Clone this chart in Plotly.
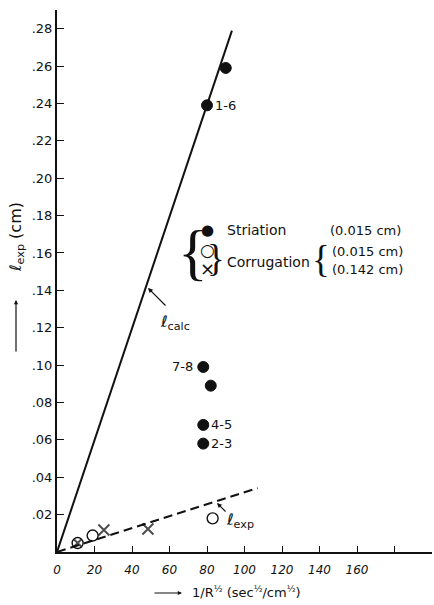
import plotly.graph_objects as go

# ---------------- data ----------------
# Striation (0.015 cm) - filled circles
stri_x = [80, 90, 78, 82, 78, 78]
stri_y = [0.239, 0.259, 0.099, 0.089, 0.068, 0.058]
# Corrugation (0.015 cm) - open circles
corr1_x = [11, 19, 83]
corr1_y = [0.0048, 0.0088, 0.018]
# Corrugation (0.142 cm) - crosses
corr2_x = [11, 25, 48.5]
corr2_y = [0.0048, 0.0118, 0.0123]
corr2_size = [7, 11, 11]
# l_calc (solid) and l_exp (dashed) lines
calc_x = [0, 93.3]
calc_y = [0, 0.279]
exp_x = [0, 107]
exp_y = [0, 0.0342]

x_ticks = [0, 20, 40, 60, 80, 100, 120, 140, 160, 180]
x_ticktext = ["0", "20", "40", "60", "80", "100", "120", "140", "160", ""]
y_ticks = [0.02, 0.04, 0.06, 0.08, 0.10, 0.12, 0.14, 0.16, 0.18, 0.20, 0.22, 0.24, 0.26, 0.28]
y_ticktext = [".02", ".04", ".06", ".08", ".10", ".12", ".14", ".16", ".18", ".20", ".22", ".24", ".26", ".28"]

point_labels = ["1-6", "", "7-8", "", "4-5", "2-3"]

FONT = "DejaVu Sans"
BRACE = "Liberation Serif"
INK = "#111111"

W, H = 434, 605
ML, MR, MT, MB = 57, 2, 10, 53
PW, PH = W - ML - MR, H - MT - MB


def px(xp):
    return (xp - ML) / PW


def py(yp):
    return (H - MB - yp) / PH


fig = go.Figure()

fig.add_trace(go.Scatter(x=calc_x, y=calc_y, mode="lines",
                         line=dict(color=INK, width=2), showlegend=False, hoverinfo="skip"))
fig.add_trace(go.Scatter(x=exp_x, y=exp_y, mode="lines",
                         line=dict(color=INK, width=2, dash="9px,5px"), showlegend=False, hoverinfo="skip"))
fig.add_trace(go.Scatter(x=stri_x, y=stri_y, mode="markers",
                         marker=dict(symbol="circle", size=11, color=INK,
                                     line=dict(color=INK, width=1)), showlegend=False))
fig.add_trace(go.Scatter(x=corr1_x, y=corr1_y, mode="markers",
                         marker=dict(symbol="circle-open", size=11, color=INK,
                                     line=dict(color=INK, width=1.4)), showlegend=False))
fig.add_trace(go.Scatter(x=corr2_x, y=corr2_y, mode="markers",
                         marker=dict(symbol="x-thin-open", size=corr2_size, color="#000000",
                                     line=dict(color="#000000", width=2)), showlegend=False))

ann = []
# point labels
lab_pos = {"1-6": (6, "left"), "7-8": (-8, "right"), "4-5": (6, "left"), "2-3": (6, "left")}
for xv, yv, t in zip(stri_x, stri_y, point_labels):
    if not t:
        continue
    dx, anc = lab_pos[t]
    ann.append(dict(x=xv, y=yv, xref="x", yref="y", text=t, showarrow=False,
                    xanchor=anc, xshift=dx,
                    font=dict(family=FONT, size=13, color=INK)))


def txt(xp, yp, text, size=13, anchor="left", family=FONT):
    ann.append(dict(x=px(xp), y=py(yp), xref="paper", yref="paper", text=text,
                    showarrow=False, xanchor=anchor, yanchor="middle",
                    font=dict(family=family, size=size, color=INK)))


# legend block
txt(193, 252, "{", size=62, anchor="center", family=BRACE)
txt(207, 230, "●", size=15, anchor="center")
txt(207, 250, "○", size=17, anchor="center")
txt(207, 268, "×", size=18, anchor="center")
txt(216, 258, "}", size=37, anchor="center", family=BRACE)
txt(225, 230, "Striation", size=14)
txt(225, 262, "Corrugation", size=14)
txt(328, 230, "(0.015 cm)", size=13)
txt(321, 259, "{", size=37, anchor="center", family=BRACE)
txt(330, 252, "(0.015 cm)", size=13)
txt(330, 269, "(0.142 cm)", size=13)

# line labels with arrows
txt(158, 322, "ℓ<sub>calc</sub>", size=16)
ann.append(dict(x=px(148), y=py(288), xref="paper", yref="paper", ax=19, ay=19, text="",
                showarrow=True, arrowhead=2, arrowsize=0.8, arrowwidth=1.2, arrowcolor=INK))
txt(224, 520, "ℓ<sub>exp</sub>", size=16)
ann.append(dict(x=px(217), y=py(503), xref="paper", yref="paper", ax=10, ay=10, text="",
                showarrow=True, arrowhead=2, arrowsize=0.8, arrowwidth=1.2, arrowcolor=INK))

# axis titles
ann.append(dict(x=px(16), y=py(237), xref="paper", yref="paper", text="ℓ<sub>exp</sub> (cm)",
                showarrow=False, textangle=-90, xanchor="center", yanchor="middle",
                font=dict(family=FONT, size=16, color=INK)))
ann.append(dict(x=px(16), y=py(300), xref="paper", yref="paper", ax=0, ay=53, text="",
                showarrow=True, arrowhead=2, arrowsize=0.7, arrowwidth=1.2, arrowcolor=INK))
txt(190, 592, "1/R<sup>½</sup> (sec<sup>½</sup>/cm<sup>½</sup>)", size=13)
ann.append(dict(x=px(182), y=py(593), xref="paper", yref="paper", ax=-29, ay=0, text="",
                showarrow=True, arrowhead=2, arrowsize=0.7, arrowwidth=1.2, arrowcolor=INK))

fig.update_layout(
    width=W, height=H,
    margin=dict(l=ML, r=MR, t=MT, b=MB),
    paper_bgcolor="white", plot_bgcolor="white",
    annotations=ann,
    font=dict(family=FONT, color=INK),
)
fig.update_xaxes(range=[0, 200], tickvals=x_ticks, ticktext=x_ticktext,
                 showgrid=False, zeroline=False, showline=True, linecolor=INK, linewidth=1.8,
                 ticks="inside", ticklen=6, tickwidth=1.3, tickcolor=INK, ticklabelstandoff=6,
                 tickfont=dict(family=FONT, size=12, color=INK, style="italic"))
fig.update_yaxes(range=[0, 0.29], tickvals=y_ticks, ticktext=y_ticktext,
                 showgrid=False, zeroline=False, showline=True, linecolor=INK, linewidth=2,
                 ticks="inside", ticklen=7, tickwidth=1.3, tickcolor=INK,
                 tickfont=dict(family=FONT, size=13, color=INK))

fig.write_html("out.html", config={"displayModeBar": False},
               post_script="document.body.style.margin='0px';document.body.style.overflow='hidden';")
